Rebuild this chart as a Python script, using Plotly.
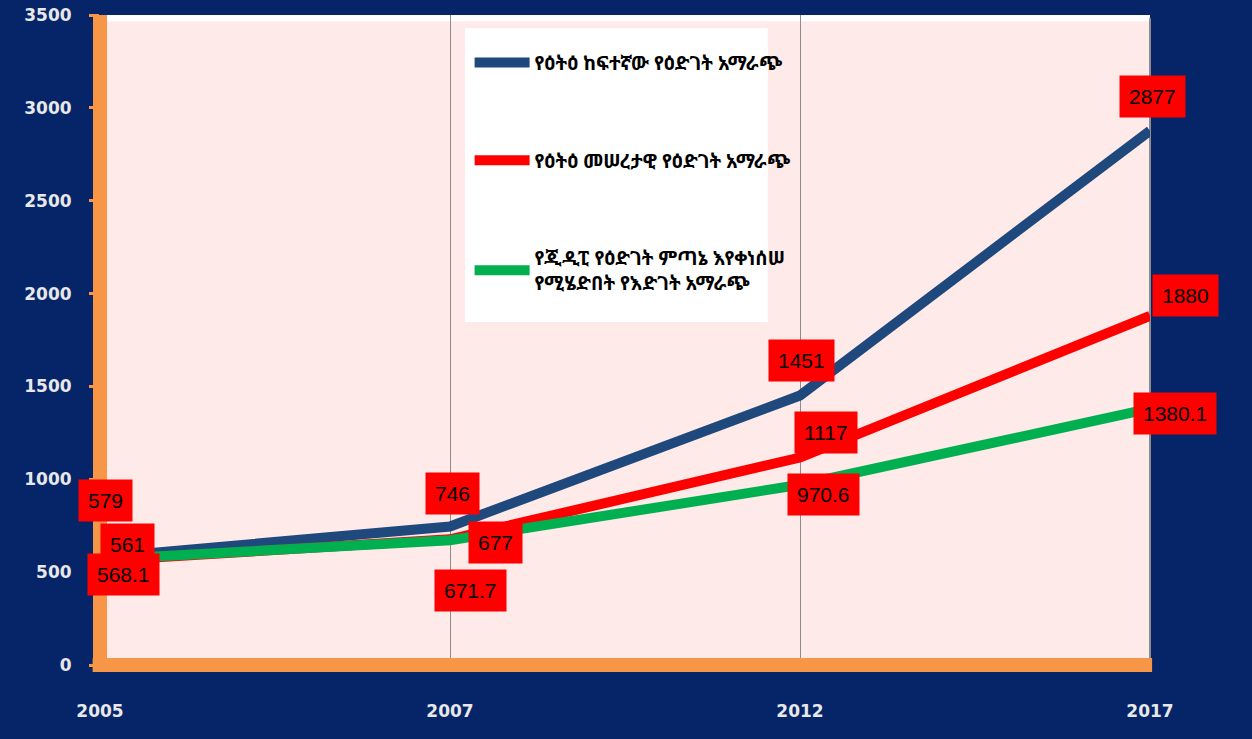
import plotly.graph_objects as go

years = ["2005", "2007", "2012", "2017"]
high_growth = [579, 746, 1451, 2877]
base_growth = [561, 677, 1117, 1880]
gdp_decline = [568.1, 671.7, 970.6, 1380.1]
y_ticks = [0, 500, 1000, 1500, 2000, 2500, 3000, 3500]

names = [
    "የዕትዕ ከፍተኛው የዕድገት አማራጭ",
    "የዕትዕ መሠረታዊ የዕድገት አማራጭ",
    "የጂዲፒ የዕድገት ምጣኔ እየቀነሰሠ<br>የሚሄድበት የእድገት አማራጭ",
]
colors = ["#1F497D", "#FF0000", "#00B050"]
series = [high_growth, base_growth, gdp_decline]

# label offsets (pixels) relative to each data point
label_shifts = [
    [(5, 57), (2, 33), (1, 35), (2, 34)],
    [(27, 16), (45, -3), (26, 25), (35, 20)],
    [(23, -15), (20, -50), (23, -10), (25, -5)],
]

NAVY = "#062468"
ORANGE = "#F79646"
ETH_FONT = "Noto Sans Ethiopic, Abyssinica SIL, Nyala, DejaVu Sans, Noto Sans, sans-serif"
TICK_FONT = "DejaVu Sans, Liberation Sans, Arial"

fig = go.Figure()
xs = list(range(len(years)))
for i, (vals, nm, col) in enumerate(zip(series, names, colors)):
    fig.add_trace(go.Scatter(
        x=xs, y=vals, mode="lines", name=nm,
        line=dict(color=col, width=10),
        legendgroup=f"g{i}",
    ))

annotations = []
for vals, shifts in zip(series, label_shifts):
    for xi, (v, (dx, dy)) in enumerate(zip(vals, shifts)):
        annotations.append(dict(
            x=xi, y=v, xref="x", yref="y", text=f"{v:g}", showarrow=False,
            xshift=dx, yshift=dy, bgcolor="#FF0000", borderpad=9,
            font=dict(family="Liberation Sans, Arial", size=21, color="#000000"),
        ))

shapes = [
    # legend box
    dict(type="rect", xref="paper", yref="paper", x0=0.3476, x1=0.636, y0=0.5277, y1=0.98,
         fillcolor="white", line=dict(width=0), layer="between"),
    # top 3D edge
    dict(type="line", xref="paper", yref="paper", x0=0, x1=1, y0=0.995, y1=0.995,
         line=dict(color="white", width=6), layer="between"),
    # right edge of the back wall
    dict(type="line", xref="paper", yref="paper", x0=1, x1=1, y0=0, y1=0.995,
         line=dict(color="#8C8C8C", width=2), layer="between"),
    # left orange wall
    dict(type="line", xref="paper", yref="paper", x0=0, x1=0, y0=-0.005, y1=1.0,
         line=dict(color=ORANGE, width=14), layer="above"),
    # bottom orange floor
    dict(type="line", xref="paper", yref="paper", x0=-0.007, x1=1.002, y0=0, y1=0,
         line=dict(color=ORANGE, width=14), layer="above"),
]

fig.update_layout(
    width=1252, height=739,
    paper_bgcolor=NAVY, plot_bgcolor="#FFEAEA",
    margin=dict(l=100, r=102, t=15, b=74, autoexpand=False),
    annotations=annotations, shapes=shapes,
    showlegend=True,
    legend=dict(
        x=0.352, y=0.956, xanchor="left", yanchor="top",
        bgcolor="rgba(0,0,0,0)", traceorder="grouped", tracegroupgap=70,
        font=dict(family=ETH_FONT, size=19, color="#000000", weight="bold"),
        itemwidth=55,
    ),
    xaxis=dict(
        range=[0, 3], tickmode="array", tickvals=xs, ticktext=years,
        showgrid=True, gridcolor="#8C8C8C", gridwidth=1, zeroline=False,
        showline=False, ticks="", ticklabelstandoff=34,
        tickfont=dict(family=TICK_FONT, size=17, color="#E8E8E8", weight="bold"),
    ),
    yaxis=dict(
        range=[0, 3500], tickmode="array", tickvals=y_ticks,
        showgrid=False, zeroline=False, showline=False,
        ticks="outside", ticklen=10, tickwidth=3, tickcolor=ORANGE,
        ticklabelstandoff=14,
        tickfont=dict(family=TICK_FONT, size=17, color="#E8E8E8", weight="bold"),
    ),
)

fig.write_html(
    "out.html",
    config={"displayModeBar": False},
    post_script="document.body.style.margin='0';document.body.style.overflow='hidden';",
)
